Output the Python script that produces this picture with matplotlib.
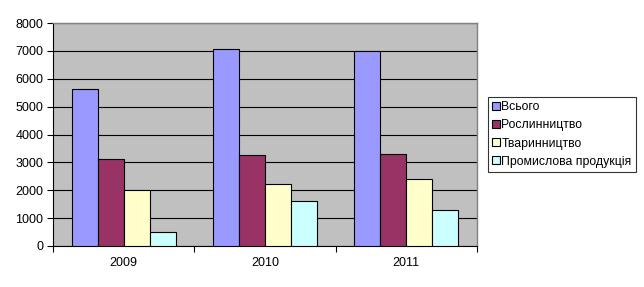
import matplotlib.pyplot as plt
import numpy as np

plt.rcParams['font.family'] = ['Liberation Sans', 'DejaVu Sans']

# data
years = ['2009', '2010', '2011']
series_names = ['Всього', 'Рослинництво', 'Тваринництво', 'Промислова продукція']
vsogo = [5630, 7080, 7010]
roslyn = [3120, 3260, 3300]
tvaryn = [2000, 2220, 2400]
promysl = [500, 1610, 1290]
colors = ['#9999FF', '#993366', '#FFFFCC', '#CCFFFF']

fig = plt.figure(figsize=(6.44, 2.87), dpi=100)
ax = fig.add_axes([53 / 644, 1 - 246 / 287, 424 / 644, 223 / 287])
ax.set_facecolor('#C0C0C0')

x = np.arange(len(years))
w = 0.184
for i, (vals, name) in enumerate(zip([vsogo, roslyn, tvaryn, promysl], series_names)):
    ax.bar(x + (i - 1.5) * w, vals, w, color=colors[i], edgecolor='black',
           linewidth=0.8, label=name, zorder=3)

ax.set_xlim(-0.5, 2.5)
ax.set_ylim(0, 8000)
ax.set_yticks(range(0, 8001, 1000))
ax.yaxis.grid(True, color='black', linewidth=0.8, zorder=1)
ax.set_xticks(x)
ax.set_xticklabels(years)
ax.set_xticks([-0.5, 0.5, 1.5, 2.5], minor=True)
ax.tick_params(axis='x', which='major', length=0, pad=8, labelsize=9)
ax.tick_params(axis='x', which='minor', length=4, width=0.8, direction='out')
ax.tick_params(axis='y', length=4, width=0.8, direction='out', labelsize=9, pad=3)

for s in ['top', 'right']:
    ax.spines[s].set_color('#808080')
    ax.spines[s].set_linewidth(1.0)
for s in ['left', 'bottom']:
    ax.spines[s].set_color('black')
    ax.spines[s].set_linewidth(0.8)

leg = fig.legend(loc='upper left', bbox_to_anchor=(488 / 644, 1 - 97 / 287),
                 fontsize=8.8, frameon=True, fancybox=False, edgecolor='black',
                 handlelength=0.6, handleheight=0.6, handletextpad=0.15,
                 labelspacing=0.5, borderpad=0.35, borderaxespad=0)
leg.get_frame().set_linewidth(0.8)

fig.savefig('out.png', dpi=100)
